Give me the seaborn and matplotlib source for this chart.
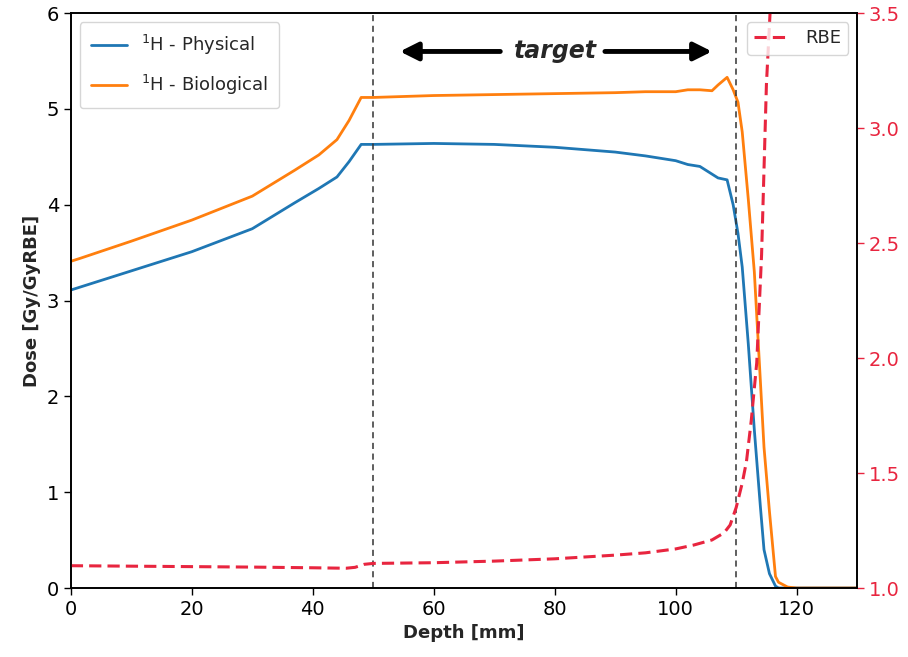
import matplotlib
matplotlib.use("Agg")
import matplotlib.pyplot as plt
import seaborn as sns
import pandas as pd

# ---- data ----
depth_dose = [0, 1.5, 10, 20, 30, 37, 41, 44, 46, 48, 50, 60, 70, 80, 90, 95, 100, 102,
              104, 106, 107, 108.5, 109.5, 110.3, 111, 112, 113, 114, 114.6, 115.5,
              116.5, 117, 118.5, 120, 125, 130]
dose_physical = [3.11, 3.14, 3.31, 3.51, 3.75, 4.02, 4.17, 4.29, 4.45, 4.63, 4.63, 4.64,
                 4.63, 4.60, 4.55, 4.51, 4.46, 4.42, 4.40, 4.32, 4.28, 4.26, 4.00, 3.70,
                 3.35, 2.55, 1.65, 0.85, 0.40, 0.15, 0.02, 0.0, 0.0, 0.0, 0.0, 0.0]
dose_biological = [3.41, 3.44, 3.62, 3.84, 4.09, 4.36, 4.52, 4.68, 4.88, 5.12, 5.12, 5.14,
                   5.15, 5.16, 5.17, 5.18, 5.18, 5.20, 5.20, 5.19, 5.25, 5.33, 5.20, 5.07,
                   4.76, 4.06, 3.30, 2.16, 1.47, 0.80, 0.12, 0.06, 0.01, 0.0, 0.0, 0.0]
depth_rbe = [0, 10, 20, 30, 40, 45.5, 47, 48.5, 50, 60, 70, 80, 90, 95, 100, 103, 106,
             108, 109, 110, 111, 111.7, 112.5, 113.4, 114.2, 115, 115.6, 116.2]
rbe = [1.097, 1.095, 1.093, 1.091, 1.088, 1.086, 1.090, 1.103, 1.107, 1.110, 1.117, 1.127,
       1.143, 1.153, 1.170, 1.187, 1.209, 1.240, 1.274, 1.350, 1.456, 1.550, 1.730, 1.980,
       2.450, 3.190, 3.500, 3.900]
target_bounds = [50, 110]
y_ticks_left = [0, 1, 2, 3, 4, 5, 6]
y_ticks_right = [1.0, 1.5, 2.0, 2.5, 3.0, 3.5]
x_ticks = [0, 20, 40, 60, 80, 100, 120]

df_dose = pd.DataFrame({"depth": depth_dose, "phys": dose_physical, "bio": dose_biological})
df_rbe = pd.DataFrame({"depth": depth_rbe, "rbe": rbe})

sns.set_theme(style="ticks")
plt.rcParams["font.family"] = ["DejaVu Sans"]

RED = "#e8253f"

fig = plt.figure(figsize=(9.08, 6.57), dpi=100)
ax = fig.add_axes([0.078, 0.105, 0.866, 0.875])

sns.lineplot(data=df_dose, x="depth", y="phys", ax=ax, color="#1f77b4", lw=2,
             label=r"$^{1}$H - Physical")
sns.lineplot(data=df_dose, x="depth", y="bio", ax=ax, color="#ff7f0e", lw=2,
             label=r"$^{1}$H - Biological")

for b in target_bounds:
    ax.axvline(b, color="#333333", lw=1.1, ls=(0, (4, 3)))

ax.set_xlim(0, 130)
ax.set_ylim(0, 6)
ax.set_xticks(x_ticks)
ax.set_yticks(y_ticks_left)
ax.tick_params(axis="both", labelsize=14, length=5, width=1, colors="black")
ax.set_xlabel("Depth [mm]", fontsize=13, fontweight="bold")
ax.set_ylabel("Dose [Gy/GyRBE]", fontsize=13, fontweight="bold")
for s in ax.spines.values():
    s.set_color("black")
    s.set_linewidth(1.2)

leg1 = ax.legend(loc="upper left", fontsize=13, frameon=True, borderpad=0.6,
                 handlelength=2.0, labelspacing=0.9)

# target annotation
ax.text(80.2, 5.6, "target", fontsize=17, fontweight="bold", fontstyle="italic",
        ha="center", va="center")
arrow_kw = dict(arrowstyle="-|>,head_length=0.9,head_width=0.45", color="black", lw=3.5,
                shrinkA=0, shrinkB=0)
ax.annotate("", xy=(54.4, 5.6), xytext=(71.0, 5.6), arrowprops=arrow_kw)
ax.annotate("", xy=(106.0, 5.6), xytext=(88.3, 5.6), arrowprops=arrow_kw)

ax2 = ax.twinx()
sns.lineplot(data=df_rbe, x="depth", y="rbe", ax=ax2, color=RED, lw=2.2,
             linestyle=(0, (4, 2)), label="RBE")
ax2.set_ylim(1.0, 3.5)
ax2.set_yticks(y_ticks_right)
ax2.set_yticklabels([f"{v:.1f}" for v in y_ticks_right])
ax2.tick_params(axis="y", colors=RED, labelsize=14, length=5, width=1)
ax2.set_ylabel("")
ax2.set_xlim(0, 130)
for s in ax2.spines.values():
    s.set_color("black")
    s.set_linewidth(1.2)
ax2.legend(loc="upper right", fontsize=13, frameon=True, handlelength=2.0)

fig.savefig("out.png", dpi=100)
